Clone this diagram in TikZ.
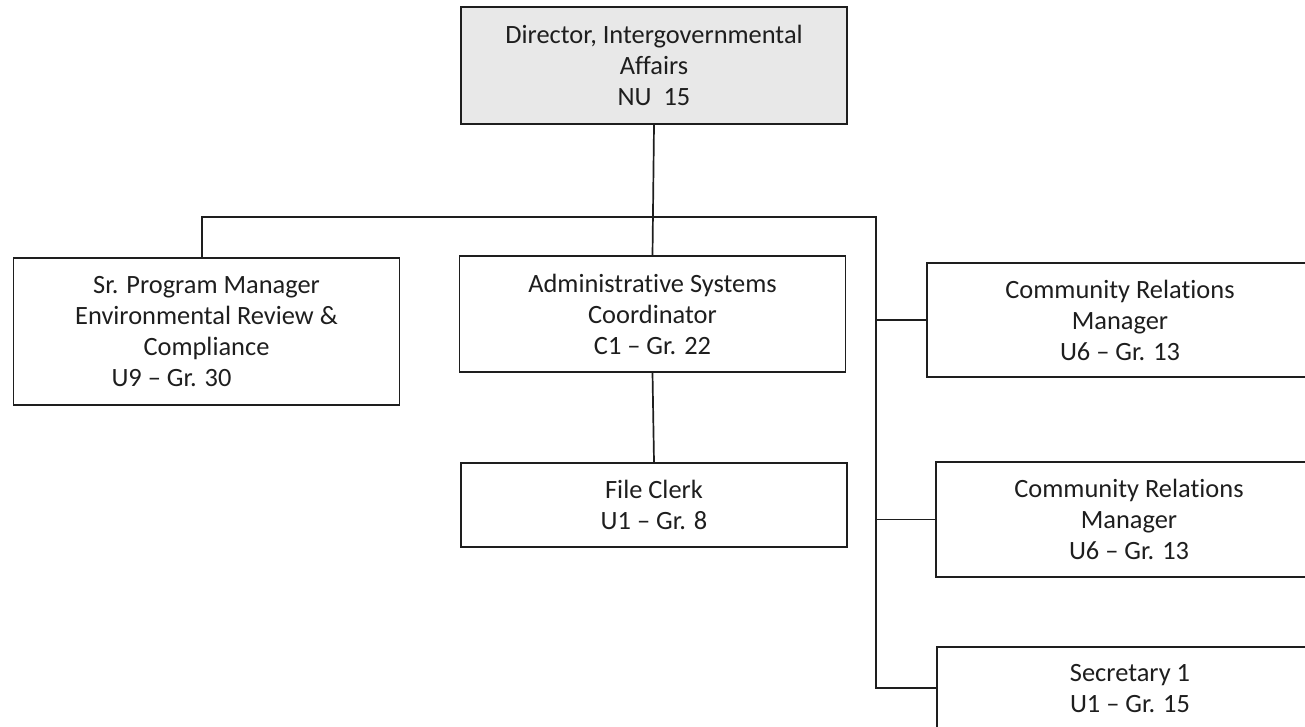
\documentclass[tikz,border=0pt]{standalone}
\usepackage{fontspec}
\setmainfont{Carlito}[Ligatures={TeX,NoCommon}]
\begin{document}
\begin{tikzpicture}[x=1pt,y=-1pt,
  orgbox/.style={draw=linegray, line width=1.7pt, rectangle, inner sep=0pt,
    align=center, text=textgray, font=\fontsize{26.4}{31}\selectfont,
    minimum width=386pt},
  link/.style={draw=linegray, line width=1.7pt}]
  \definecolor{linegray}{HTML}{1E1E1E}
  \definecolor{textgray}{HTML}{1E1E1E}
  \definecolor{headfill}{HTML}{E8E8E8}
  \useasboundingbox (0,0) rectangle (1305,727);
  \clip (0,0) rectangle (1305,727);

  % top position
  \node[orgbox, fill=headfill, minimum height=117pt] (dir) at (654,65.5)
    {Director, Intergovernmental\\Affairs\\NU~~15};

  % second level
  \node[orgbox, minimum height=147pt] (srpm) at (206.5,331.5)
    {Sr. Program Manager\\Environmental Review \&\\Compliance\\U9 – Gr. 30\hspace*{70pt}};
  \node[orgbox, minimum height=116pt] (asc) at (652.5,314)
    {Administrative Systems\\Coordinator\\C1 – Gr. 22};
  \node[orgbox, minimum height=84pt] (clerk) at (654,505)
    {File Clerk\\U1 – Gr. 8};

  % staff on the right-hand spine
  \node[orgbox, minimum height=114pt] (crm1) at (1120,320)
    {Community Relations\\Manager\\U6 – Gr. 13};
  \node[orgbox, minimum height=115pt] (crm2) at (1129,519.5)
    {Community Relations\\Manager\\U6 – Gr. 13};
  \node[orgbox, minimum height=84pt] (sec) at (1130,689)
    {Secretary 1\\U1 – Gr. 15};

  % bus and spine
  \coordinate (busL) at (202,217);
  \coordinate (busR) at (876,217);
  \coordinate (spineEnd) at (876,688);

  \draw[link] (dir.south) -- (asc.north);
  \draw[link] (busL |- srpm.north) -- (busL) -- (busR) -- (spineEnd) -- (sec.west |- spineEnd);
  \draw[link] (busR |- crm1.west) -- (crm1.west);
  \draw[link] (busR |- crm2.west) -- (crm2.west);
  \draw[link] (asc.south) -- (clerk.north);
\end{tikzpicture}
\end{document}
